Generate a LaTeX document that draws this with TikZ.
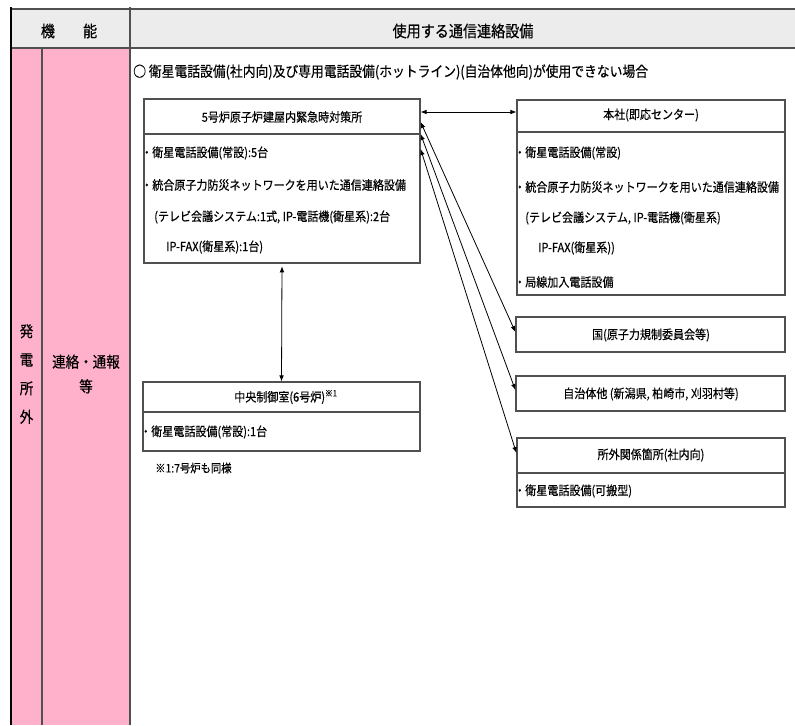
\documentclass[tikz,border=0pt]{standalone}
\usepackage{fontspec}
\setmainfont[FakeStretch=0.88, FakeBold=0.4]{Noto Sans CJK JP}
\usetikzlibrary{arrows.meta, positioning, fit}

\definecolor{rowpink}{RGB}{255,177,204}
\definecolor{headgray}{RGB}{236,236,236}
\definecolor{linegray}{RGB}{80,80,80}

\begin{document}
\begin{tikzpicture}[x=0.75pt, y=-0.75pt,
    box/.style={draw=linegray, line width=0.9pt, inner sep=0pt},
    rule/.style={draw=linegray, line width=0.9pt},
    head/.style={font=\fontsize{9.4}{11}\selectfont},
    item/.style={anchor=west, inner sep=0pt, font=\fontsize{9.4}{11}\selectfont},
    arr/.style={{Latex[length=4.5pt,width=3.5pt]}-{Latex[length=4.5pt,width=3.5pt]}, line width=0.6pt}]
    \useasboundingbox (0,0) rectangle (795,725);

    % 表の枠
    \fill[headgray] (11,9) rectangle (795,48);
    \fill[rowpink] (11,48) rectangle (130,725);
    \draw[linegray, line width=1.5pt] (11,9) -- (795,9) (11,48) -- (795,48);
    \draw[black, line width=0.8pt] (11,7) -- (11,725);
    \draw[linegray, line width=1.2pt] (130,7) -- (130,725);
    \draw[linegray, line width=0.8pt] (42,48) -- (42,725);

    % 見出し
    \node[font=\fontsize{12}{14}\selectfont] (kino) at (69,31) {機　　能};
    \node[font=\fontsize{12}{14}\selectfont] (setsubi) at (463,31) {使用する通信連絡設備};
    \node[font=\fontsize{11.5}{21.4}\selectfont, align=center] (hatsuden) at (26.5,374) {発\\電\\所\\外};
    \node[font=\fontsize{11.5}{18.5}\selectfont, align=center] (renraku) at (86,374) {連絡・通報\\等};

    % 条件
    \node[item, font=\fontsize{10.9}{13}\selectfont] (joken) at (133,72) {○ 衛星電話設備(社内向)及び専用電話設備(ホットライン)(自治体他向)が使用できない場合};

    % 5号炉 緊急時対策所
    \node[box, fit={(144,99) (420,263)}] (taisaku) {};
    \draw[rule] (144,134) -- (420,134);
    \node[head] (taisakuH) at (282,117) {5号炉原子炉建屋内緊急時対策所};
    \node[item] (taisaku1) at (141,153) {・衛星電話設備(常設):5台};
    \node[item] (taisaku2) at (141,185) {・統合原子力防災ネットワークを用いた通信連絡設備};
    \node[item] (taisaku3) at (154,217) {(テレビ会議システム:1式, IP-電話機(衛星系):2台};
    \node[item] (taisaku4) at (166,247) {IP-FAX(衛星系):1台)};

    % 中央制御室
    \node[box, fit={(143,382) (420,451)}] (chuo) {};
    \draw[rule] (143,412) -- (420,412);
    \node[head] (chuoH) at (286,397) {中央制御室(6号炉)\textsuperscript{※1}};
    \node[item] (chuo1) at (140,432) {・衛星電話設備(常設):1台};
    \node[item, font=\fontsize{8.8}{10}\selectfont] (chuuki) at (155,468) {※1:7号炉も同様};

    % 本社
    \node[box, fit={(517,100) (785,295)}] (honsha) {};
    \draw[rule] (517,132) -- (785,132);
    \node[head] (honshaH) at (651,115) {本社(即応センター)};
    \node[item] (honsha1) at (514,153) {・衛星電話設備(常設)};
    \node[item] (honsha2) at (514,187) {・統合原子力防災ネットワークを用いた通信連絡設備};
    \node[item] (honsha3) at (525,218) {(テレビ会議システム, IP-電話機(衛星系)};
    \node[item] (honsha4) at (538,248) {IP-FAX(衛星系))};
    \node[item] (honsha5) at (514,282) {・局線加入電話設備};

    % 国・自治体・所外
    \node[box, fit={(516,317) (785,352)}] (kuni) {};
    \node[head] (kuniH) at (651,335) {国(原子力規制委員会等)};
    \node[box, fit={(516,376) (785,411)}] (jichi) {};
    \node[head] (jichiH) at (651,394) {自治体他 (新潟県, 柏崎市, 刈羽村等)};
    \node[box, fit={(517,438) (785,507)}] (shogai) {};
    \draw[rule] (517,473) -- (785,473);
    \node[head] (shogaiH) at (651,455) {所外関係箇所(社内向)};
    \node[item] (shogai1) at (514,491) {・衛星電話設備(可搬型)};

    % 矢印
    \draw[arr] (taisaku.east |- 0,112) -- (honsha.west |- 0,112);
    \draw[arr, shorten <=2pt] (taisaku.south) -- (chuo.north);
    \foreach \ys/\dest/\yd in {122/kuni/332, 134/jichi/390, 149/shogai/453}
        \draw[arr] (taisaku.east |- 0,\ys) -- (\dest.west |- 0,\yd);
\end{tikzpicture}
\end{document}
